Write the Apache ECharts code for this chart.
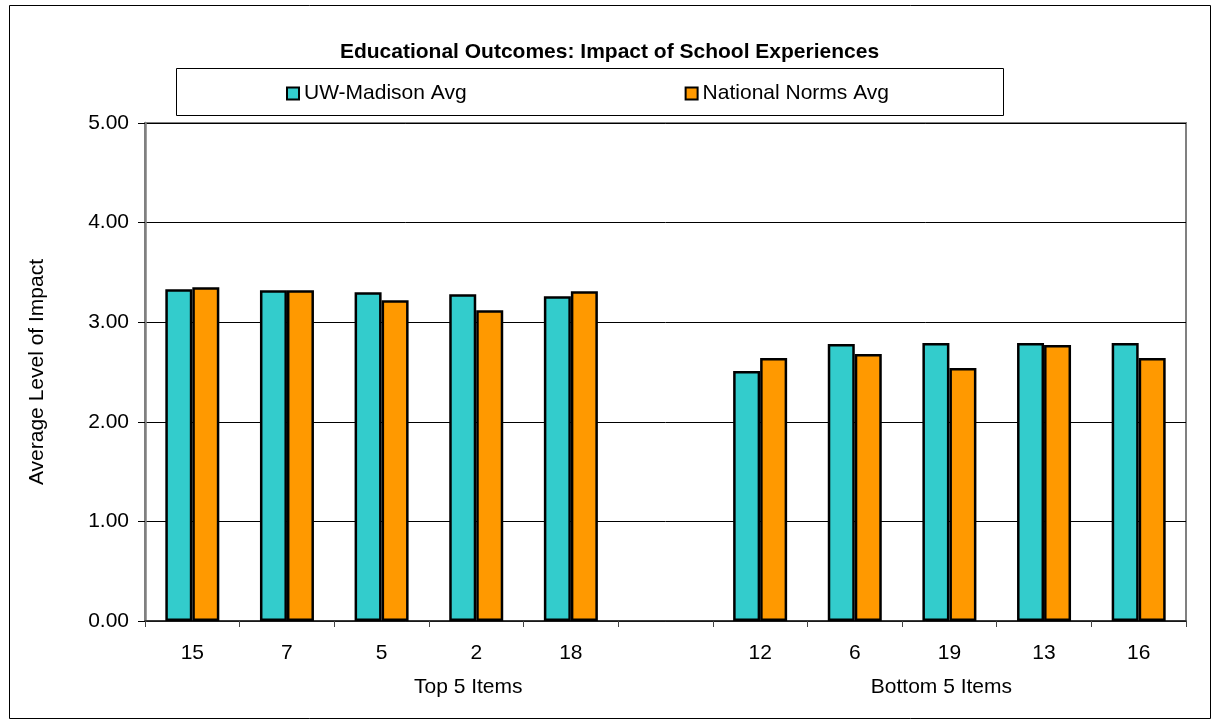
<!DOCTYPE html>
<html>
<head>
<meta charset="utf-8">
<script src="https://cdn.jsdelivr.net/npm/echarts@6/dist/echarts.min.js"></script>
<style>
html,body{margin:0;padding:0;background:#fff;}
#chart{width:1219px;height:727px;}
</style>
</head>
<body>
<div id="chart"></div>
<script>
const titleText = 'Educational Outcomes: Impact of School Experiences';
const categories = ['15', '7', '5', '2', '18', '', '12', '6', '19', '13', '16'];
const groupLabels = ['', '', '', 'Top 5 Items', '', '', '', '', 'Bottom 5 Items', '', ''];
const seriesNames = ['UW-Madison Avg', 'National Norms Avg'];
const uwValues = [3.33, 3.32, 3.30, 3.28, 3.26, '-', 2.51, 2.78, 2.79, 2.79, 2.79];
const nationalValues = [3.35, 3.32, 3.22, 3.12, 3.31, '-', 2.64, 2.68, 2.54, 2.77, 2.64];
const yTicks = [0, 1, 2, 3, 4, 5];

const FONT = "'Liberation Sans', Arial, sans-serif";
const chart = echarts.init(document.getElementById('chart'), null, {renderer: 'canvas'});

chart.setOption({
  backgroundColor: '#ffffff',
  animation: false,
  textStyle: {fontFamily: FONT},
  title: {
    text: titleText,
    left: 'center',
    top: 37,
    textStyle: {fontFamily: FONT, fontSize: 21, fontWeight: 'bold', color: '#000'}
  },
  graphic: [
    {type: 'rect', shape: {x: 9.5, y: 5.5, width: 1201, height: 713}, style: {fill: 'none', stroke: '#000', lineWidth: 1}, silent: true, z: 0},
    {type: 'rect', shape: {x: 176.5, y: 68.5, width: 827, height: 47}, style: {fill: '#fff', stroke: '#000', lineWidth: 1}, silent: true, z: 1}
  ],
  legend: {
    left: 286,
    top: 83,
    padding: 0,
    itemGap: 218,
    itemWidth: 12,
    itemHeight: 12,
    icon: 'rect',
    z: 5,
    itemStyle: {borderColor: '#000', borderWidth: 2},
    textStyle: {fontFamily: FONT, fontSize: 21, color: '#000'},
    data: seriesNames
  },
  grid: {
    left: 145, right: 33, top: 123, bottom: 106,
    show: true,
    borderColor: '#808080',
    borderWidth: 2,
    backgroundColor: 'transparent'
  },
  xAxis: [
    {
      type: 'category',
      data: categories,
      boundaryGap: true,
      axisLine: {show: true, lineStyle: {color: '#222', width: 1.5}},
      axisTick: {show: true, length: 6, alignWithLabel: false, interval: 0, lineStyle: {color: '#444'}},
      axisLabel: {interval: 0, margin: 22, fontSize: 21, fontFamily: FONT, color: '#000'},
      splitLine: {show: false}
    },
    {
      type: 'category',
      data: categories,
      position: 'bottom',
      offset: 34,
      boundaryGap: true,
      axisLine: {show: false},
      axisTick: {show: false},
      axisLabel: {
        interval: 0, margin: 22, fontSize: 21, fontFamily: FONT, color: '#000',
        padding: [0, 16, 0, 0],
        formatter: function (v, i) { return groupLabels[i]; }
      },
      splitLine: {show: false}
    }
  ],
  yAxis: {
    type: 'value',
    min: yTicks[0],
    max: yTicks[yTicks.length - 1],
    interval: 1,
    name: 'Average Level of Impact',
    nameLocation: 'middle',
    nameRotate: 90,
    nameGap: 97,
    nameTextStyle: {fontFamily: FONT, fontSize: 21, color: '#000'},
    axisLine: {show: true, lineStyle: {color: '#808080', width: 2.5}},
    axisTick: {show: true, inside: false, length: 7, lineStyle: {color: '#000'}},
    axisLabel: {margin: 16, fontSize: 21, fontFamily: FONT, color: '#000', formatter: function (v) { return v.toFixed(2); }},
    splitLine: {show: true, lineStyle: {color: '#000', width: 1}}
  },
  series: [
    {
      name: seriesNames[0],
      type: 'bar',
      data: uwValues,
      barWidth: 27,
      barGap: '0%',
      itemStyle: {color: '#33CCCC', borderColor: '#000', borderWidth: 2.5}
    },
    {
      name: seriesNames[1],
      type: 'bar',
      data: nationalValues,
      barWidth: 27,
      barGap: '0%',
      itemStyle: {color: '#FF9900', borderColor: '#000', borderWidth: 2.5}
    }
  ]
});
</script>
</body>
</html>
